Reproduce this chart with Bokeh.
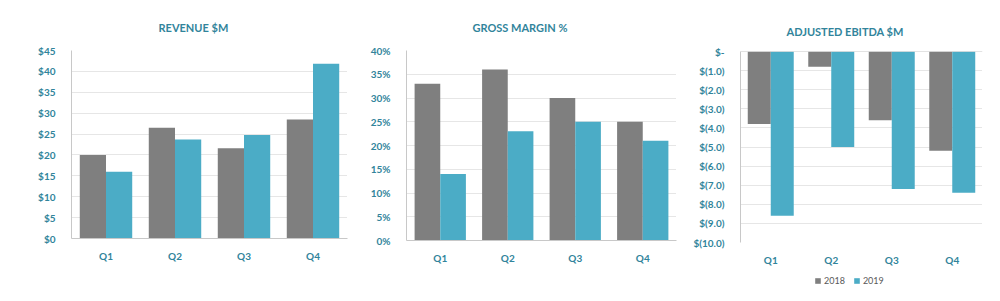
from bokeh.plotting import figure
from bokeh.models import (FactorRange, Range1d, SingleIntervalTicker, CustomJSTickFormatter,
                          ColumnDataSource, Legend, LegendItem, Span)
from bokeh.transform import dodge
from bokeh.layouts import row, column
from bokeh.embed import file_html
from bokeh.resources import INLINE

quarters = ["Q1", "Q2", "Q3", "Q4"]
years = ["2018", "2019"]
revenue_2018 = [20.0, 26.5, 21.6, 28.5]
revenue_2019 = [16.0, 23.7, 24.8, 41.8]
gross_margin_2018 = [0.33, 0.36, 0.30, 0.25]
gross_margin_2019 = [0.14, 0.23, 0.25, 0.21]
ebitda_2018 = [-3.8, -0.8, -3.6, -5.2]
ebitda_2019 = [-8.6, -5.0, -7.2, -7.4]

GRAY = "#7f7f7f"
BLUE = "#4bacc6"
TEAL = "#31849b"
FONT = "Lato"


def make_chart(title, v18, v19, yr, interval, fmt_code, fw, fh, ml, mr, mt, mb, toff):
    src = ColumnDataSource(dict(q=quarters, a=v18, b=v19))
    p = figure(x_range=FactorRange(factors=quarters), y_range=Range1d(start=yr[0], end=yr[1]),
               frame_width=fw, frame_height=fh, output_backend="svg", toolbar_location=None,
               min_border_left=ml, min_border_right=mr, min_border_top=mt, min_border_bottom=mb)
    r1 = p.vbar(x=dodge("q", -0.19, range=p.x_range), top="a", bottom=0, width=0.38,
                source=src, fill_color=GRAY, line_color=None)
    r2 = p.vbar(x=dodge("q", 0.19, range=p.x_range), top="b", bottom=0, width=0.38,
                source=src, fill_color=BLUE, line_color=None)
    p.title.text = title
    p.title.align = "left"
    p.title.offset = toff
    p.title.standoff = 34
    p.title.text_font = FONT
    p.title.text_font_style = "bold"
    p.title.text_font_size = "11px"
    p.title.text_color = TEAL
    p.outline_line_color = None
    p.xgrid.grid_line_color = None
    p.ygrid.grid_line_color = "#cccccc"
    p.ygrid.grid_line_dash = "1 1"
    p.yaxis.ticker = SingleIntervalTicker(interval=interval)
    p.yaxis.formatter = CustomJSTickFormatter(code=fmt_code)
    for ax in (p.xaxis[0], p.yaxis[0]):
        ax.major_tick_line_color = None
        ax.minor_tick_line_color = None
        ax.axis_line_color = "#c8c8c8"
        ax.major_label_text_font = FONT
        ax.major_label_text_font_style = "bold"
        ax.major_label_text_font_size = "10px"
        ax.major_label_text_color = TEAL
    p.yaxis.major_label_standoff = 10
    p.xaxis.major_label_standoff = 5
    return p, r1, r2, src


p1, _, _, _ = make_chart("REVENUE $M", revenue_2018, revenue_2019, (0, 45), 5,
                         "return '$' + tick.toFixed(0);", 276, 188, 71, 13, 50, 60, 87)
p2, _, _, _ = make_chart("GROSS MARGIN %", gross_margin_2018, gross_margin_2019, (0, 0.40), 0.05,
                         "return Math.round(tick * 100) + '%';", 270, 190, 46, 14, 50, 58, 66)
p3, _, _, src3 = make_chart("ADJUSTED EBITDA $M", ebitda_2018, ebitda_2019, (-10, 0), 1,
                            "return Math.abs(tick) < 1e-9 ? '$-' : '$(' + Math.abs(tick).toFixed(1) + ')';",
                            242, 191, 45, 23, 51, 24, 46)
p3.xaxis.axis_line_color = None
p3.xaxis.major_label_standoff = 5
p3.title.standoff = 28
p3.add_layout(Span(location=0, dimension="width", line_color="#c8c8c8", line_width=1))

# legend strip under the third chart (its bars fall outside the visible range)
lf = figure(width=310, height=24, output_backend="svg", toolbar_location=None,
            x_axis_location=None, y_axis_location=None, min_border=0,
            x_range=FactorRange(factors=quarters), y_range=Range1d(start=1, end=2))
lf.outline_line_color = None
lf.xgrid.grid_line_color = None
lf.ygrid.grid_line_color = None
lr1 = lf.vbar(x="q", top="a", bottom=0, width=0.38, source=src3, fill_color=GRAY, line_color=None)
lr2 = lf.vbar(x="q", top="b", bottom=0, width=0.38, source=src3, fill_color=BLUE, line_color=None)
legend = Legend(items=[LegendItem(label=years[0], renderers=[lr1]),
                       LegendItem(label=years[1], renderers=[lr2])],
                orientation="horizontal", location=(74, 6))
legend.label_text_font = FONT
legend.label_text_font_size = "9px"
legend.label_text_color = "#595959"
legend.glyph_width = 7
legend.glyph_height = 7
legend.spacing = 8
legend.padding = 0
legend.margin = 0
legend.label_standoff = 3
legend.label_height = 10
legend.border_line_color = None
legend.background_fill_alpha = 0
lf.add_layout(legend)

layout = row(p1, p2, column(p3, lf))
open("out.html", "w").write(file_html(layout, INLINE))
